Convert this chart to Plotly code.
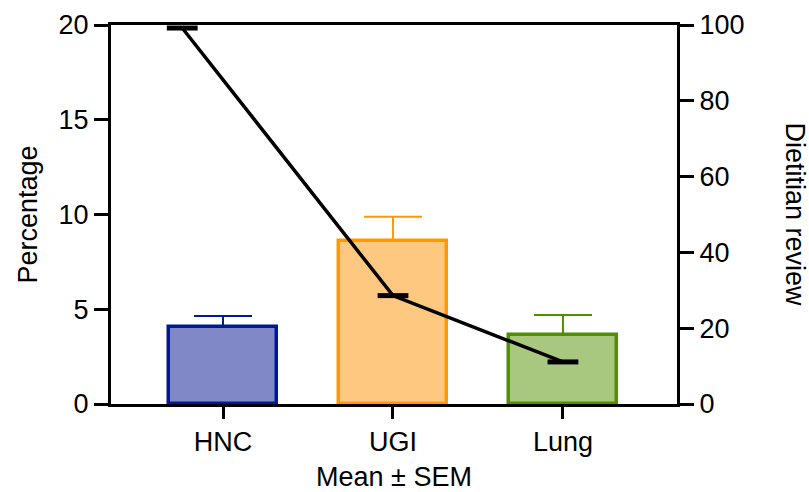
import plotly.graph_objects as go

categories = ["HNC", "UGI", "Lung"]
cat_pos = [0, 1, 2]
percentage_mean = [4.08, 8.6, 3.64]
percentage_sem = [0.56, 1.28, 1.06]
dietitian_x = [-0.24, 1.0, 2.0]
dietitian_review = [99.2, 28.6, 11.1]

fills = ["#8088C8", "#FFC880", "#A8C880"]
edges = ["#001A96", "#FF9900", "#4F8F00"]

FONT = "Arial, 'Liberation Sans', sans-serif"
FS = 27

fig = go.Figure()
for i in range(3):
    fig.add_trace(go.Bar(
        x=[cat_pos[i]], y=[percentage_mean[i]],
        width=0.64,
        marker=dict(color=fills[i], line=dict(color=edges[i], width=3.5)),
        error_y=dict(type="data", array=[percentage_sem[i]], arrayminus=[0],
                     color=edges[i], thickness=2, width=29),
        showlegend=False,
    ))

fig.add_trace(go.Scatter(
    x=dietitian_x, y=dietitian_review, yaxis="y2",
    mode="lines+markers",
    line=dict(color="black", width=3.5),
    marker=dict(symbol="line-ew", size=22, line=dict(color="black", width=5)),
    cliponaxis=False, showlegend=False,
))

fig.update_layout(
    width=809, height=492,
    margin=dict(l=111, r=132, t=25, b=88, autoexpand=False),
    plot_bgcolor="white", paper_bgcolor="white",
    font=dict(family=FONT, size=FS, color="black"),
    bargap=0,
    xaxis=dict(
        range=[-0.659, 2.671], automargin=False,
        tickvals=cat_pos, ticktext=categories,
        ticks="outside", ticklen=12, tickwidth=3, tickcolor="black",
        showline=True, linewidth=3, linecolor="black", mirror=True,
        showgrid=False, zeroline=False,
        title=dict(text="Mean ± SEM", font=dict(size=FS), standoff=18),
        tickfont=dict(size=FS),
    ),
    yaxis=dict(
        range=[0, 20], tickvals=[0, 5, 10, 15, 20], automargin=False,
        ticks="outside", ticklen=14, tickwidth=3, tickcolor="black",
        showline=True, linewidth=3, linecolor="black",
        showgrid=False, zeroline=False,
        title=dict(text="Percentage", font=dict(size=FS), standoff=14),
        tickfont=dict(size=FS),
    ),
    yaxis2=dict(
        range=[0, 100], tickvals=[0, 20, 40, 60, 80, 100], automargin=False,
        overlaying="y", side="right",
        ticks="outside", ticklen=14, tickwidth=3, tickcolor="black",
        showline=True, linewidth=3, linecolor="black",
        showgrid=False, zeroline=False,
        tickfont=dict(size=FS),
    ),
    annotations=[dict(
        text="Dietitian review", textangle=90,
        xref="paper", yref="paper", x=1.0, y=0.5,
        xshift=118, xanchor="center", yanchor="middle",
        showarrow=False, font=dict(size=FS),
    )],
)

fig.write_html("out.html")
